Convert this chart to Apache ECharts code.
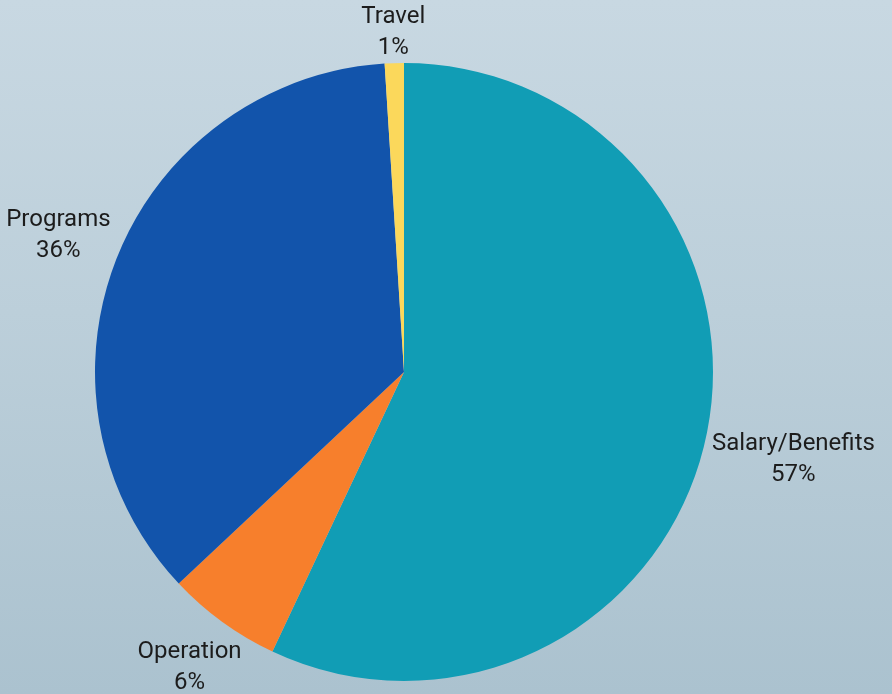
<!DOCTYPE html>
<html>
<head>
<meta charset="utf-8">
<script src="https://cdn.jsdelivr.net/npm/echarts@6/dist/echarts.min.js"></script>
<style>
  html, body { margin: 0; padding: 0; }
  body {
    width: 892px; height: 694px; overflow: hidden;
    background: linear-gradient(180deg, #c8d8e2 0%, #bccfda 45%, #abc2cf 100%);
  }
  #c { width: 892px; height: 694px; }
</style>
</head>
<body>
<div id="c"></div>
<script>
const categories = ['Salary/Benefits', 'Operation', 'Programs', 'Travel'];
const values = [57, 6, 36, 1];
const colors = ['#119db5', '#f77f2c', '#1254ab', '#fbd85b'];

const chart = echarts.init(document.getElementById('c'));
const GAP = 5;
const LINE_PAD = 12;

function layoutLabel(p) {
  let L = null;
  try {
    L = chart.getModel().getSeriesByIndex(0).getData().getItemLayout(p.dataIndex);
  } catch (e) { L = null; }
  if (!L) return {};
  const mid = (L.startAngle + L.endAngle) / 2;
  const ux = Math.cos(mid), uy = Math.sin(mid);
  const w = p.labelRect.width, h = p.labelRect.height - LINE_PAD;
  const d = L.r + GAP + Math.abs(ux) * w / 2 + Math.abs(uy) * h / 2;
  return { x: L.cx + ux * d, y: L.cy + uy * d, align: 'center', verticalAlign: 'middle' };
}

chart.setOption({
  backgroundColor: 'transparent',
  animation: false,
  series: [{
    type: 'pie',
    center: [404, 372],
    radius: 309,
    startAngle: 90,
    clockwise: true,
    avoidLabelOverlap: false,
    data: categories.map((n, i) => ({ name: n, value: values[i], itemStyle: { color: colors[i] } })),
    itemStyle: { borderWidth: 0 },
    label: {
      show: true,
      position: 'inside',
      formatter: p => p.name + '\n' + p.value + '%',
      color: '#1c1c1c',
      fontFamily: 'Roboto',
      fontSize: 24,
      lineHeight: 31
    },
    labelLine: { show: false },
    labelLayout: layoutLabel,
    emphasis: { disabled: true }
  }]
});
</script>
</body>
</html>
